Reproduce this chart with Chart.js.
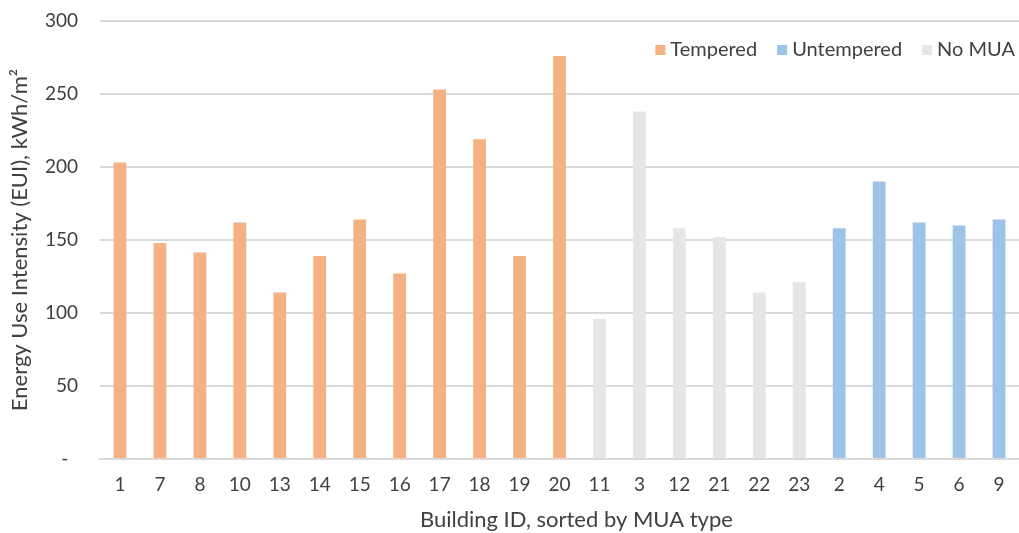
<!DOCTYPE html>
<html>
<head>
<meta charset="utf-8">
<script src="https://cdn.jsdelivr.net/npm/chart.js@4.4.1/dist/chart.umd.min.js"></script>
<style>
  html, body { margin: 0; padding: 0; background: #ffffff; }
  #wrap { width: 1019px; height: 533px; position: relative; }
</style>
</head>
<body>
<div id="wrap"><canvas id="chart"></canvas></div>
<script>
// Building IDs, grouped by make-up air (MUA) type
const buildingIds = ['1','7','8','10','13','14','15','16','17','18','19','20',
                     '11','3','12','21','22','23',
                     '2','4','5','6','9'];

// Energy use intensity per building, kWh/m², null where the building is in another group
const tempered   = [203,148,141.5,162,114,139,164,127,253,219,139,276,
                    null,null,null,null,null,null,
                    null,null,null,null,null];
const noMua      = [null,null,null,null,null,null,null,null,null,null,null,null,
                    96,238,158,152,114,121,
                    null,null,null,null,null];
const untempered = [null,null,null,null,null,null,null,null,null,null,null,null,
                    null,null,null,null,null,null,
                    158,190,162,160,164];

const yTicks = [0, 50, 100, 150, 200, 250, 300];

const FONT = 'Lato';
const TEXT = '#404040';
const GRID = '#d9d9d9';

// Legend drawn inside the top-right corner of the plot area
const insideLegend = {
  id: 'insideLegend',
  afterDraw(chart) {
    const ctx = chart.ctx;
    const area = chart.chartArea;
    const order = [0, 2, 1];
    ctx.save();
    ctx.font = '20px "' + FONT + '"';
    ctx.textBaseline = 'middle';
    ctx.textAlign = 'left';
    const box = 10, gap = 5, spacing = 20, y = 50;
    const widths = order.map(i => ctx.measureText(chart.data.datasets[i].label).width);
    let total = 0;
    widths.forEach((w, k) => { total += box + gap + w + (k ? spacing : 0); });
    let x = area.right - 4 - total;
    order.forEach((i, k) => {
      const ds = chart.data.datasets[i];
      ctx.fillStyle = ds.backgroundColor;
      ctx.fillRect(x, y - box / 2, box, box);
      ctx.fillStyle = TEXT;
      ctx.fillText(ds.label, x + box + gap, y);
      x += box + gap + widths[k] + spacing;
    });
    ctx.restore();
  }
};

new Chart(document.getElementById('chart'), {
  type: 'bar',
  data: {
    labels: buildingIds,
    datasets: [
      { label: 'Tempered',   data: tempered,   backgroundColor: '#F4B183' },
      { label: 'No MUA',     data: noMua,      backgroundColor: '#E7E6E6' },
      { label: 'Untempered', data: untempered, backgroundColor: '#9DC3E6' }
    ]
  },
  options: {
    responsive: true,
    maintainAspectRatio: false,
    animation: false,
    layout: { padding: { top: 21, right: 0, left: 7, bottom: 0 } },
    datasets: {
      bar: { grouped: false, barPercentage: 0.32, categoryPercentage: 1.0 }
    },
    plugins: {
      legend: { display: false },
      tooltip: { enabled: false }
    },
    scales: {
      x: {
        grid: { display: false, drawTicks: false },
        border: { display: true, color: GRID, width: 2 },
        ticks: { color: TEXT, font: { family: FONT, size: 19 }, padding: 14, maxRotation: 0, autoSkip: false },
        title: {
          display: true,
          text: ' '.repeat(6) + 'Building ID, sorted by MUA type',
          color: TEXT,
          font: { family: FONT, size: 22 },
          padding: { top: 12, bottom: 0 }
        },
        afterFit(scale) { scale.height = 74; }
      },
      y: {
        min: 0,
        max: 300,
        afterBuildTicks(scale) { scale.ticks = yTicks.map(v => ({ value: v })); },
        grid: { color: GRID, lineWidth: 2, drawTicks: false },
        border: { display: false },
        ticks: {
          color: TEXT,
          font: { family: FONT, size: 19 },
          padding: 22,
          callback: v => (v === 0 ? '-  ' : String(v))
        },
        title: {
          display: true,
          text: 'Energy Use Intensity (EUI), kWh/m²',
          color: TEXT,
          font: { family: FONT, size: 22 },
          padding: { top: 0, bottom: 0 }
        },
        afterFit(scale) {
          scale.width = 93;
          scale.paddingTop = 0;
          scale.paddingBottom = 0;
        }
      }
    }
  },
  plugins: [insideLegend]
});
</script>
</body>
</html>
